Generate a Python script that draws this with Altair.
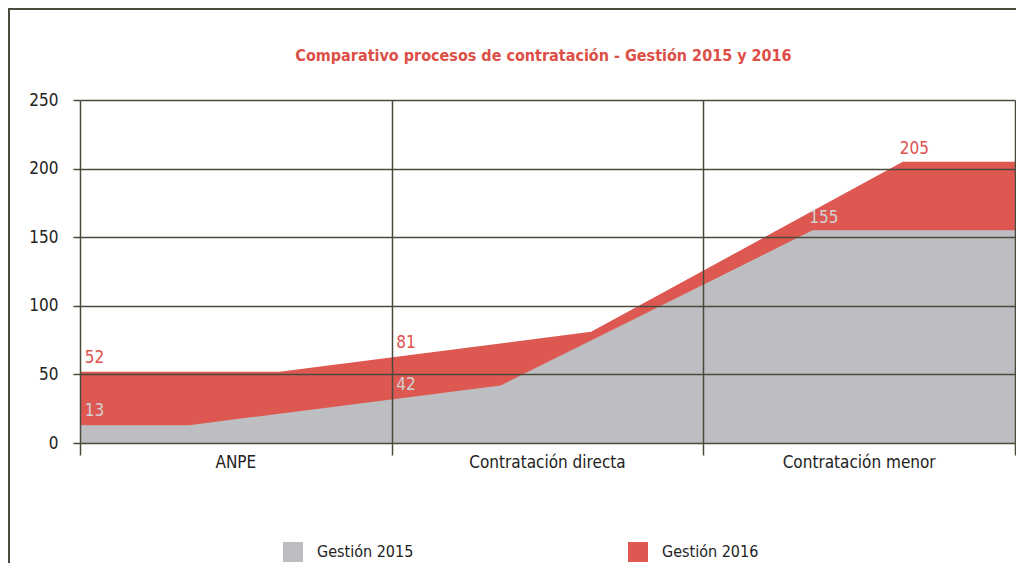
import altair as alt
import numpy as np
import pandas as pd

# ---- data ----
categories = ["ANPE", "Contratación directa", "Contratación menor"]
series = ["Gestión 2015", "Gestión 2016"]
values_2015 = [13, 42, 155]
values_2016 = [52, 81, 205]
y_ticks = [0, 50, 100, 150, 200, 250]
title_text = "Comparativo procesos de contratación  - Gestión 2015 y 2016"

# ---- style / layout constants ----
FONT = "DejaVu Sans Condensed, Open Sans, sans-serif"
GRAY = "#BDBEC1"
RED = "#DD5850"
LINE = "#4B4A3D"
DEPTH = {"Gestión 2015": 0.35, "Gestión 2016": 0.64}  # pseudo-3D shift of each series
W, H = 935, 343

series_values = {"Gestión 2015": values_2015, "Gestión 2016": values_2016}
n = len(categories)


def area_rows(name):
    vals = series_values[name]
    rows = [{"serie": name, "pos": 0, "valor": vals[0]}]
    for i, v in enumerate(vals):
        rows.append({"serie": name, "pos": i + DEPTH[name], "valor": v})
    rows.append({"serie": name, "pos": n, "valor": vals[-1]})
    return rows


def label_rows(name, area):
    vals = series_values[name]
    rows = []
    for i, v in enumerate(vals):
        p = i + 0.015 if i < n - 1 else i + DEPTH[name] - 0.01
        # label sits on the area's upper edge at its own position
        edge = float(np.interp(p, area["pos"], area["valor"]))
        rows.append({"serie": name, "pos": p, "valor": edge, "txt": str(v)})
    return rows


df15 = pd.DataFrame(area_rows("Gestión 2015"))
df16 = pd.DataFrame(area_rows("Gestión 2016"))
lab15 = pd.DataFrame(label_rows("Gestión 2015", df15))
lab16 = pd.DataFrame(label_rows("Gestión 2016", df16))
cat_df = pd.DataFrame({"cat": categories, "pos": [i + 0.5 for i in range(n)]})
title_df = pd.DataFrame({"t": [title_text]})

xscale = alt.Scale(domain=[0, n], nice=False, zero=False)
yscale = alt.Scale(domain=[0, 250], nice=False)
color = alt.Color(
    "serie:N",
    scale=alt.Scale(domain=series, range=[GRAY, RED]),
    legend=alt.Legend(
        title=None, orient="none", legendX=203, legendY=442, direction="horizontal",
        symbolType="square", symbolSize=400, symbolStrokeWidth=0, symbolOpacity=1,
        labelFontSize=16, labelFont=FONT, labelColor="#222222", labelOffset=14,
        columnPadding=214, padding=0,
    ),
)

x_axis = alt.Axis(values=list(range(n + 1)), grid=True, labels=False, ticks=True,
                  tickSize=12, domain=False, title=None, zindex=1)
y_axis = alt.Axis(values=y_ticks, grid=True, tickSize=7, domain=False, title=None,
                  labelPadding=15, zindex=1)

base_x = alt.X("pos:Q", scale=xscale, axis=x_axis)
base_y = alt.Y("valor:Q", scale=yscale, axis=y_axis, stack=None)

area16 = alt.Chart(df16).mark_area(opacity=1, line=False).encode(x=base_x, y=base_y, color=color)
area15 = alt.Chart(df15).mark_area(opacity=1, line=False).encode(x=base_x, y=base_y, color=color)

txt16 = alt.Chart(lab16).mark_text(align="left", baseline="bottom", dy=-5, fontSize=17,
                                   font=FONT, color="#E0514B").encode(
    x=alt.X("pos:Q", scale=xscale), y=alt.Y("valor:Q", scale=yscale), text="txt:N")
txt15 = alt.Chart(lab15).mark_text(align="left", baseline="bottom", dy=-5, fontSize=17,
                                   font=FONT, color="#D2D2D5").encode(
    x=alt.X("pos:Q", scale=xscale), y=alt.Y("valor:Q", scale=yscale), text="txt:N")

cat_txt = alt.Chart(cat_df).mark_text(baseline="middle", fontSize=17, font=FONT,
                                      color="#222222").encode(
    x=alt.X("pos:Q", scale=xscale), y=alt.value(H + 20), text="cat:N")

title_mark = alt.Chart(title_df).mark_text(
    baseline="middle", align="center", fontSize=16, font=FONT, fontWeight="bold",
    color="#DD4F46").encode(x=alt.value(W / 2 - 4), y=alt.value(-44), text="t:N")

# outer frame (top and left edges of the surrounding box)
frame_top = alt.Chart(cat_df).mark_rule(color=LINE, strokeWidth=2).encode(
    x=alt.value(-72), x2=alt.value(W + 10), y=alt.value(-91))
frame_left = alt.Chart(cat_df).mark_rule(color=LINE, strokeWidth=2).encode(
    x=alt.value(-71), y=alt.value(-92), y2=alt.value(H + 130))

chart = alt.layer(area16, area15, txt16, txt15, cat_txt, title_mark,
                  frame_top, frame_left).properties(
    width=W, height=H,
    padding={"left": 72, "top": 92, "right": 1, "bottom": 120},
    autosize=alt.AutoSizeParams(type="none"),
).configure_view(stroke=None).configure_axis(
    gridColor=LINE, gridWidth=1.5, gridOpacity=1, tickColor=LINE, tickWidth=1.5,
    labelFontSize=17, labelFont=FONT, labelColor="#222222",
)

chart.save("out.html", embed_options={"renderer": "svg", "actions": False})
